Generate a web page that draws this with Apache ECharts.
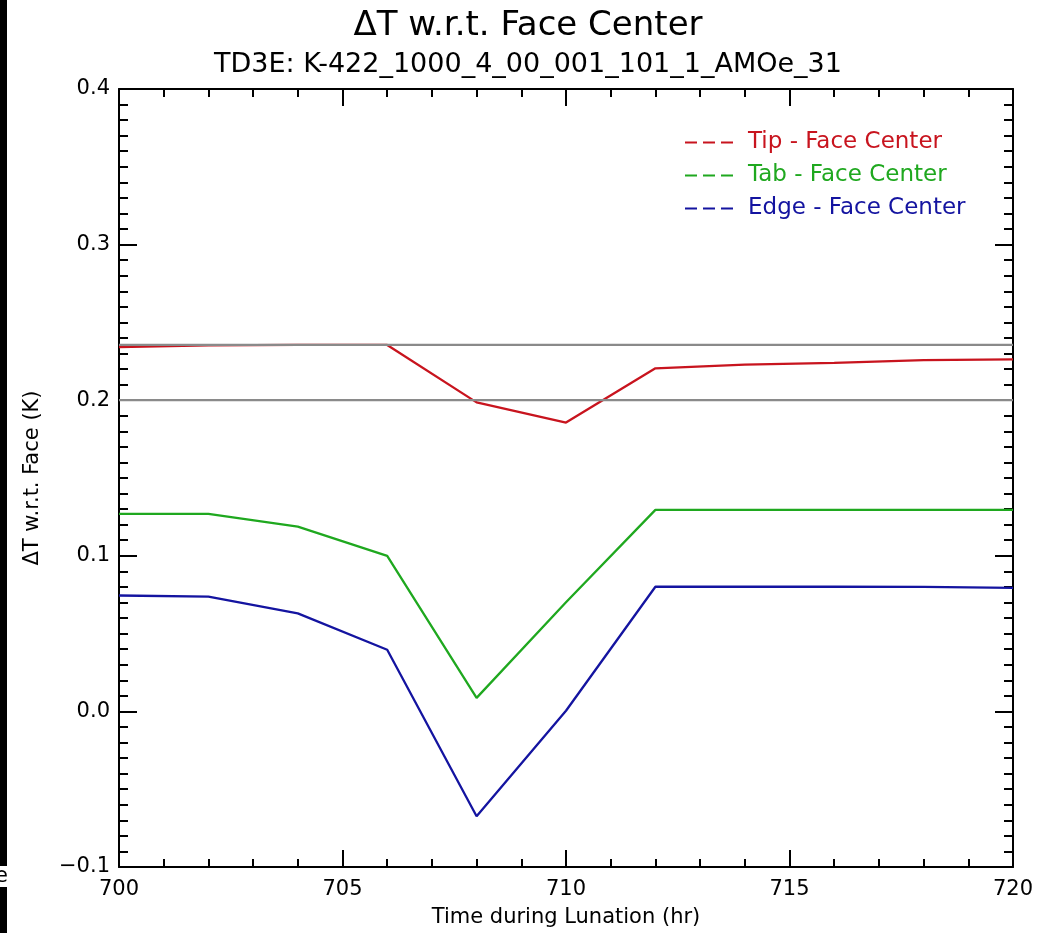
<!DOCTYPE html>
<html>
<head>
<meta charset="utf-8">
<script src="https://cdn.jsdelivr.net/npm/echarts@6/dist/echarts.min.js"></script>
<style>
html,body{margin:0;padding:0;background:#fff;}
#chart{width:1056px;height:933px;}
</style>
</head>
<body>
<div id="chart"></div>
<script>
// ---- data ----
const hours = [700, 702, 704, 706, 708, 710, 712, 714, 716, 718, 720];
const tipFace  = [0.2342, 0.2352, 0.2355, 0.2355, 0.1986, 0.1856, 0.2205, 0.2228, 0.2240, 0.2257, 0.2262];
const tabFace  = [0.127, 0.127, 0.1187, 0.100, 0.0087, 0.0701, 0.1295, 0.1295, 0.1295, 0.1295, 0.1295];
const edgeFace = [0.0745, 0.0737, 0.063, 0.0396, -0.0674, 0.0004, 0.0801, 0.0801, 0.0801, 0.0800, 0.0794];
const refLevels = [0.2356, 0.200];
const seriesNames = ['Tip - Face Center', 'Tab - Face Center', 'Edge - Face Center'];
const yTickValues = [-0.1, 0.0, 0.1, 0.2, 0.3, 0.4];
const yTickLabels = ['\u22120.1', '0.0', '0.1', '0.2', '0.3', '0.4'];
const xTickLabels = ['700', '705', '710', '715', '720'];

const FONT = 'DejaVu Sans';
const colors = ['#c8141e', '#1fa81f', '#1414a0'];
const dashIcon = 'path://M0,0h12v2h-12zM18,0h12v2h-12zM36,0h12v2h-12z';

const pairs = (vals) => hours.map((h, i) => [h, vals[i]]);

const chart = echarts.init(document.getElementById('chart'), null, {renderer: 'canvas'});

const tickCommon = {
  axisLine: {show: true, onZero: false, lineStyle: {color: '#000', width: 2}},
  splitLine: {show: false}
};

const option = {
  backgroundColor: '#fff',
  animation: false,
  title: [
    {text: '\u0394T w.r.t. Face Center', left: 'center', top: 4,
     textStyle: {fontFamily: FONT, fontSize: 34, fontWeight: 'normal', color: '#000'}},
    {text: 'TD3E: K-422_1000_4_00_001_101_1_AMOe_31', left: 'center', top: 46,
     textStyle: {fontFamily: FONT, fontSize: 27, fontWeight: 'normal', color: '#000'}}
  ],
  legend: {
    orient: 'vertical',
    left: 680, top: 126,
    itemWidth: 48, itemHeight: 2, itemGap: 10,
    selectedMode: false,
    data: seriesNames.map((n, i) => ({
      name: n, icon: dashIcon,
      itemStyle: {color: colors[i]},
      textStyle: {color: colors[i], fontFamily: FONT, fontSize: 23, padding: [0, 0, 0, 10]}
    }))
  },
  grid: {left: 119, right: 43, top: 89, bottom: 62, containLabel: false},
  xAxis: [
    Object.assign({
      type: 'value', min: 700, max: 720, interval: 5, position: 'bottom',
      name: 'Time during Lunation (hr)', nameLocation: 'middle', nameGap: 40,
      nameTextStyle: {fontFamily: FONT, fontSize: 21, color: '#000'},
      axisTick: {show: true, inside: true, length: 17, lineStyle: {color: '#000', width: 2}},
      minorTick: {show: true, splitNumber: 5, length: 8, lineStyle: {color: '#000', width: 2}},
      axisLabel: {show: true, margin: 12, fontFamily: FONT, fontSize: 21, color: '#000',
        formatter: (v) => xTickLabels[Math.round((v - 700) / 5)] ?? ''}
    }, tickCommon),
    Object.assign({
      type: 'value', min: 700, max: 720, interval: 5, position: 'top',
      axisTick: {show: true, inside: true, length: 17, lineStyle: {color: '#000', width: 2}},
      minorTick: {show: true, splitNumber: 5, length: 8, lineStyle: {color: '#000', width: 2}},
      axisLabel: {show: false}
    }, tickCommon)
  ],
  yAxis: [
    Object.assign({
      type: 'value', min: -0.1, max: 0.4, interval: 0.1, position: 'left',
      name: '\u0394T w.r.t. Face (K)', nameLocation: 'middle', nameGap: 76, nameRotate: 90,
      nameTextStyle: {fontFamily: FONT, fontSize: 21, color: '#000'},
      axisTick: {show: true, inside: true, length: 18, lineStyle: {color: '#000', width: 2}},
      minorTick: {show: true, splitNumber: 10, length: 9, lineStyle: {color: '#000', width: 2}},
      axisLabel: {show: true, margin: 9, fontFamily: FONT, fontSize: 21, color: '#000',
        formatter: (v) => {
          const idx = yTickValues.findIndex(t => Math.abs(t - v) < 1e-9);
          return idx >= 0 ? yTickLabels[idx] : '';
        }}
    }, tickCommon),
    Object.assign({
      type: 'value', min: -0.1, max: 0.4, interval: 0.1, position: 'right',
      axisTick: {show: true, inside: true, length: 18, lineStyle: {color: '#000', width: 2}},
      minorTick: {show: true, splitNumber: 10, length: 9, lineStyle: {color: '#000', width: 2}},
      axisLabel: {show: false}
    }, tickCommon)
  ],
  series: [
    {name: seriesNames[0], type: 'line', data: pairs(tipFace), showSymbol: false, symbol: 'none',
     lineStyle: {color: colors[0], width: 2.3}, itemStyle: {color: colors[0]}, z: 2},
    {name: seriesNames[1], type: 'line', data: pairs(tabFace), showSymbol: false, symbol: 'none',
     lineStyle: {color: colors[1], width: 2.3}, itemStyle: {color: colors[1]}, z: 2},
    {name: seriesNames[2], type: 'line', data: pairs(edgeFace), showSymbol: false, symbol: 'none',
     lineStyle: {color: colors[2], width: 2.3}, itemStyle: {color: colors[2]}, z: 2},
    ...refLevels.map((r, i) => ({
      name: 'ref' + i, type: 'line', symbol: 'none', showSymbol: false,
      data: [[hours[0], r], [hours[hours.length - 1], r]],
      lineStyle: {color: '#8a8a8a', width: 2.3}, z: 3
    }))
  ],
  graphic: [
    {type: 'rect', left: 0, top: 0, shape: {width: 7, height: 933}, style: {fill: '#000'}, z: 100},
    {type: 'text', left: -5, top: 866, style: {text: 'e', fill: '#000', backgroundColor: '#fff',
      font: '21px "DejaVu Sans"'}, z: 101}
  ]
};

chart.setOption(option);
</script>
</body>
</html>
